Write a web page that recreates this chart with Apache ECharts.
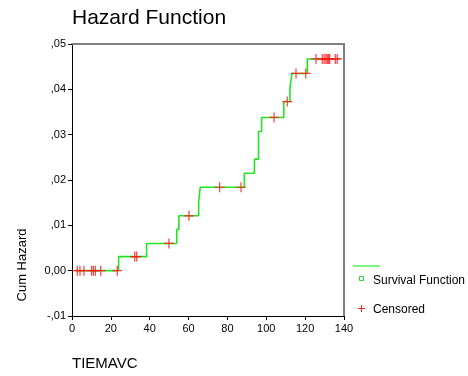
<!DOCTYPE html>
<html>
<head>
<meta charset="utf-8">
<script src="https://cdn.jsdelivr.net/npm/echarts@6/dist/echarts.min.js"></script>
<style>
  html, body { margin: 0; padding: 0; background: #fff; }
  #chart { width: 468px; height: 376px; }
</style>
</head>
<body>
<div id="chart"></div>
<script>
// step function: event times and cumulative hazard after each event
var stepTimes = [2, 24, 38.4, 53.9, 55, 65.2, 66, 88.7, 93.9, 96, 97.6, 109, 112.2, 113.2, 121.1, 137];
var stepHazard = [0, 0.0031, 0.0060, 0.0091, 0.0121, 0.0152, 0.0184, 0.0215, 0.0246, 0.0307, 0.0338, 0.0373, 0.0404, 0.0435, 0.0467, 0.0467];
// censored cases
var censTimes = [2.7, 4.1, 6.2, 10.1, 11, 12, 14.8, 23.3, 32.3, 33.3, 49.9, 60.2, 76, 87, 104, 110.8, 115.3, 120.3,
  125.6, 128.8, 129.8, 130.7, 131.4, 132.1, 132.6, 135.5, 136.5];
var censHazard = [0, 0, 0, 0, 0, 0, 0, 0, 0.0031, 0.0031, 0.0060, 0.0121, 0.0184, 0.0184, 0.0338, 0.0373, 0.0435, 0.0435,
  0.0467, 0.0467, 0.0467, 0.0467, 0.0467, 0.0467, 0.0467, 0.0467, 0.0467];
var yTickLabels = ["-,01", "0,00", ",01", ",02", ",03", ",04", ",05"];
var xTickLabels = ["0", "20", "40", "60", "80", "100", "120", "140"];

var font = "Liberation Sans, Arial, sans-serif";
var chart = echarts.init(document.getElementById("chart"));

var stepData = stepTimes.map(function(t, i) { return [t, stepHazard[i]]; });
var censData = censTimes.map(function(t, i) { return [t, censHazard[i]]; });
var plus = "path://M4.4,0H5.6V4.4H10V5.6H5.6V10H4.4V5.6H0V4.4H4.4Z";

var option = {
  animation: false,
  backgroundColor: "#fff",
  textStyle: { fontFamily: font },
  title: {
    text: "Hazard Function",
    left: 72,
    top: 8,
    padding: 0,
    textStyle: { color: "#000", fontSize: 21, fontWeight: "normal", fontFamily: font }
  },
  grid: { left: 72, right: 124, top: 44, bottom: 60 },
  xAxis: [
    {
      type: "value",
      min: 0,
      max: 140,
      interval: 20,
      axisLine: { onZero: false, lineStyle: { color: "#000", width: 1 } },
      axisTick: { length: 4, lineStyle: { color: "#000" } },
      axisLabel: {
        color: "#000",
        fontSize: 11,
        margin: 7,
        formatter: function(v) { return xTickLabels[Math.round(v / 20)]; }
      },
      splitLine: { show: false }
    },
    {
      // grey frame on top
      type: "value",
      position: "top",
      min: 0,
      max: 140,
      axisLine: { show: true, onZero: false, lineStyle: { color: "#808080", width: 2 } },
      axisTick: { show: false },
      axisLabel: { show: false },
      splitLine: { show: false }
    }
  ],
  yAxis: [
    {
      type: "value",
      min: -0.01,
      max: 0.05,
      interval: 0.01,
      axisLine: { show: true, onZero: false, lineStyle: { color: "#000", width: 1 } },
      axisTick: { show: true, length: 4, lineStyle: { color: "#000" } },
      axisLabel: {
        color: "#000",
        fontSize: 11,
        margin: 6,
        formatter: function(v) { return yTickLabels[Math.round(v * 100) + 1]; }
      },
      splitLine: { show: false }
    },
    {
      // grey frame on the right
      type: "value",
      position: "right",
      min: -0.01,
      max: 0.05,
      axisLine: { show: true, onZero: false, lineStyle: { color: "#808080", width: 2 } },
      axisTick: { show: false },
      axisLabel: { show: false },
      splitLine: { show: false }
    }
  ],
  series: [
    {
      name: "Survival Function",
      type: "line",
      step: "end",
      data: stepData,
      showSymbol: false,
      lineStyle: { color: "#22e622", width: 1.6 },
      z: 2
    },
    {
      name: "Censored",
      type: "scatter",
      data: censData,
      symbol: plus,
      symbolSize: 10,
      itemStyle: { color: "#ff1a1a", opacity: 0.85 },
      z: 3
    }
  ],
  graphic: [
    {
      type: "text",
      x: 22.5,
      y: 265,
      rotation: Math.PI / 2,
      style: { text: "Cum Hazard", fill: "#000", font: "13px " + font, align: "center", verticalAlign: "middle" }
    },
    {
      type: "text",
      x: 72,
      y: 364,
      style: { text: "TIEMAVC", fill: "#000", font: "15px " + font, align: "left", verticalAlign: "middle" }
    },
    {
      type: "line",
      shape: { x1: 353, y1: 266, x2: 380, y2: 266 },
      style: { stroke: "#55ee55", lineWidth: 1.5 }
    },
    {
      type: "rect",
      shape: { x: 359.5, y: 276.5, width: 4, height: 4 },
      style: { fill: "none", stroke: "#22dd22", lineWidth: 1 }
    },
    {
      type: "text",
      x: 373,
      y: 281,
      style: { text: "Survival Function", fill: "#000", font: "12px " + font, verticalAlign: "middle" }
    },
    {
      type: "line",
      shape: { x1: 358, y1: 308.5, x2: 365, y2: 308.5 },
      style: { stroke: "#ff2222", lineWidth: 1 }
    },
    {
      type: "line",
      shape: { x1: 361.5, y1: 305, x2: 361.5, y2: 312 },
      style: { stroke: "#ff2222", lineWidth: 1 }
    },
    {
      type: "text",
      x: 373,
      y: 310,
      style: { text: "Censored", fill: "#000", font: "12px " + font, verticalAlign: "middle" }
    }
  ]
};
chart.setOption(option);
</script>
</body>
</html>
